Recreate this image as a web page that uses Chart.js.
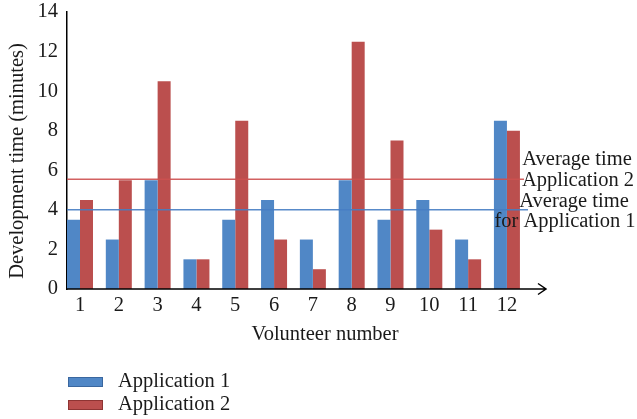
<!DOCTYPE html>
<html>
<head>
<meta charset="utf-8">
<script src="https://cdn.jsdelivr.net/npm/chart.js@4.4.1/dist/chart.umd.min.js"></script>
<style>
  html, body { margin: 0; padding: 0; background: #fff; }
  #wrap { width: 637px; height: 419px; position: relative; }
</style>
</head>
<body>
<div id="wrap"><canvas id="c"></canvas></div>
<script>
// Volunteer numbers (x tick labels)
const categories = ['1', '2', '3', '4', '5', '6', '7', '8', '9', '10', '11', '12'];
// Development time in minutes
const app1 = [3.5, 2.5, 5.5, 1.5, 3.5, 4.5, 2.5, 5.5, 3.5, 4.5, 2.5, 8.5];
const app2 = [4.5, 5.5, 10.5, 1.5, 8.5, 2.5, 1, 12.5, 7.5, 3, 1.5, 8];
const seriesNames = ['Application 1', 'Application 2'];
const yTicks = [0, 2, 4, 6, 8, 10, 12, 14];
const yTitle = 'Development time (minutes)';
// Notes printed next to the two average lines
const noteApp2 = ['Average time', 'Application 2'];
const noteApp1 = ['Average time', 'for Application 1'];

const mean = a => a.reduce((s, v) => s + v, 0) / a.length;
const avgApp1 = mean(app1);
const avgApp2 = mean(app2);

const BLUE = '#5087c6';
const RED = '#bb4f4e';
const FONT = '"Liberation Serif", "DejaVu Serif", serif';
const FS = 20.5;

Chart.defaults.font.family = FONT;
Chart.defaults.color = '#1a1a1a';

// Average lines, axis arrow, y title, side notes and the stacked legend
const decorations = {
  id: 'decorations',
  afterDatasetsDraw(chart) {
    const { ctx, scales: { y } } = chart;
    const x0 = y.right;
    ctx.save();
    // average lines
    ctx.lineWidth = 1.5;
    ctx.strokeStyle = 'rgba(205,80,80,0.9)';
    ctx.beginPath();
    ctx.moveTo(x0, y.getPixelForValue(avgApp2));
    ctx.lineTo(524, y.getPixelForValue(avgApp2));
    ctx.stroke();
    ctx.strokeStyle = 'rgba(70,125,195,0.9)';
    ctx.beginPath();
    ctx.moveTo(x0, y.getPixelForValue(avgApp1));
    ctx.lineTo(528, y.getPixelForValue(avgApp1));
    ctx.stroke();

    // x axis with open arrow head
    const by = y.getPixelForValue(0);
    ctx.strokeStyle = '#000';
    ctx.lineWidth = 1.5;
    ctx.beginPath();
    ctx.moveTo(x0 - 0.75, by);
    ctx.lineTo(546, by);
    ctx.moveTo(538, by - 5.5);
    ctx.lineTo(546, by);
    ctx.lineTo(538, by + 5.5);
    ctx.stroke();

    ctx.fillStyle = '#1a1a1a';
    ctx.font = FS + 'px ' + FONT;
    ctx.textBaseline = 'middle';

    // y axis title
    ctx.save();
    ctx.translate(18, 161);
    ctx.rotate(-Math.PI / 2);
    ctx.textAlign = 'center';
    ctx.fillText(yTitle, 0, 0);
    ctx.restore();

    // notes
    ctx.textAlign = 'center';
    ctx.fillText(noteApp2[0], 577, 160);
    ctx.fillText(noteApp2[1], 578, 181);
    ctx.fillText(noteApp1[0], 574, 202);
    ctx.fillText(noteApp1[1], 565, 222);

    // legend
    ctx.textAlign = 'left';
    chart.data.datasets.forEach((ds, i) => {
      const ly = 382 + i * 23;
      ctx.fillStyle = ds.backgroundColor;
      ctx.fillRect(68, ly - 5, 35, 10);
      ctx.strokeStyle = ds.legendBorder;
      ctx.lineWidth = 1;
      ctx.strokeRect(68.5, ly - 4.5, 34, 9);
      ctx.fillStyle = '#1a1a1a';
      ctx.fillText(ds.label, 118, ly);
    });
    ctx.restore();
  }
};

new Chart(document.getElementById('c'), {
  type: 'bar',
  data: {
    datasets: [
      {
        label: seriesNames[0],
        data: app1.map((v, i) => ({ x: i + 1, y: v })),
        backgroundColor: BLUE,
        legendBorder: '#3a679f'
      },
      {
        label: seriesNames[1],
        data: app2.map((v, i) => ({ x: i + 1, y: v })),
        backgroundColor: RED,
        legendBorder: '#8e3433'
      }
    ]
  },
  options: {
    responsive: true,
    maintainAspectRatio: false,
    animation: false,
    devicePixelRatio: 1,
    categoryPercentage: 0.67,
    barPercentage: 1,
    layout: { padding: { left: 0, top: 12, right: 54, bottom: 67 } },
    plugins: { legend: { display: false }, tooltip: { enabled: false } },
    scales: {
      x: {
        type: 'linear',
        offset: false,
        min: 0.665,
        max: 13.96,
        grid: { display: false, drawTicks: false },
        border: { display: false },
        afterBuildTicks: s => { s.ticks = categories.map((c, i) => ({ value: i + 1 })); },
        afterFit: s => { s.height = 63; s.paddingLeft = 0; s.paddingRight = 0; },
        ticks: {
          padding: 4,
          autoSkip: false,
          maxRotation: 0,
          font: { size: FS },
          callback: v => categories[v - 1]
        },
        title: {
          display: true,
          text: 'Volunteer number',
          font: { size: FS },
          padding: { top: 0, bottom: 5 }
        }
      },
      y: {
        min: 0,
        max: 14,
        grid: { display: false, drawTicks: false },
        border: { display: true, color: '#000', width: 1.5 },
        afterBuildTicks: s => { s.ticks = yTicks.map(v => ({ value: v })); },
        afterFit: s => { s.width = 67; s.paddingTop = 0; s.paddingBottom = 0; },
        ticks: { padding: 9, font: { size: FS } }
      }
    }
  },
  plugins: [decorations]
});
</script>
</body>
</html>
